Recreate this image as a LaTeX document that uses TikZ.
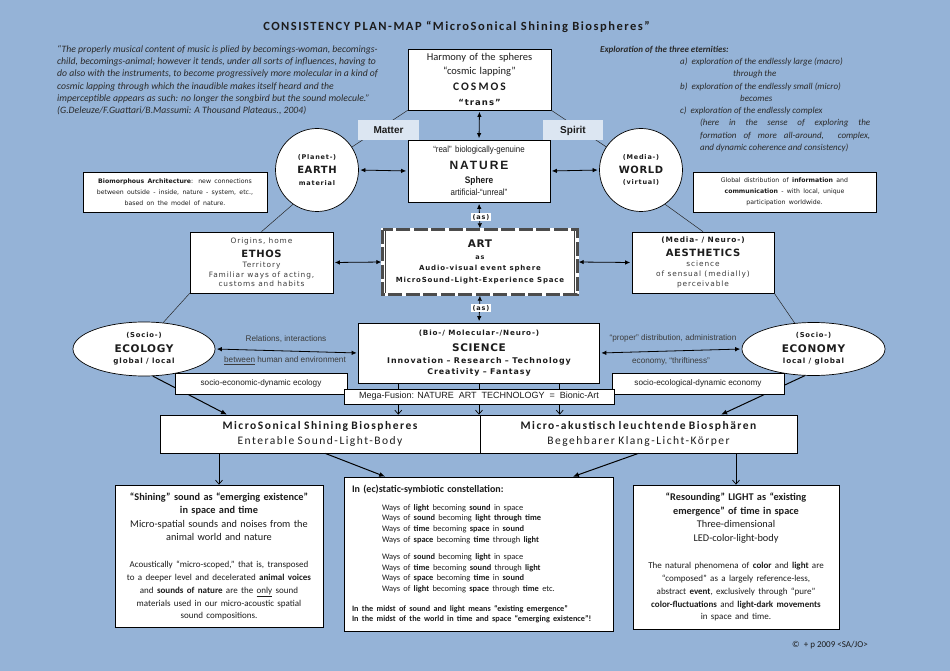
\documentclass[tikz,border=0pt]{standalone}
\usepackage{fontspec}
\setmainfont{Carlito}
\newfontfamily\vsp[LetterSpace=12]{DejaVu Sans}
\newfontfamily\vcap[LetterSpace=6]{DejaVu Sans}
\newfontfamily\dej{DejaVu Sans}
\newfontfamily\ari{Liberation Sans}
\newfontfamily\arin[FakeStretch=0.88]{Liberation Sans}
\newfontfamily\arisp[LetterSpace=16]{Liberation Sans}
\newfontfamily\calsp[LetterSpace=13]{Carlito}
\newfontfamily\calw[LetterSpace=18]{Carlito}
\newfontfamily\ttlf[LetterSpace=12]{Carlito}
\usetikzlibrary{arrows.meta,shapes.geometric,calc}
\setlength{\parindent}{0pt}
\setlength{\parskip}{0pt}
\definecolor{bg}{HTML}{95B3D7}
\definecolor{lab}{HTML}{DCE6F2}
\definecolor{ink}{HTML}{1C1C1C}
\definecolor{soft}{HTML}{3C3C3C}
\definecolor{qink}{HTML}{2A2A2A}
\newcommand\tline[3]{{\fontsize{#1}{#2}\selectfont #3\par}}
\newcommand\wline[2]{{\leftskip=30pt\fontsize{8.4}{#1}\selectfont #2\par}}
\tikzset{
  box/.style={draw=black, line width=0.7pt, fill=white, inner sep=0pt, align=center, text=ink},
  circ/.style={circle, draw=black, line width=0.7pt, fill=white, inner sep=0pt, align=center, text=ink, font=\vsp\bfseries},
  ell/.style={ellipse, draw=black, line width=0.7pt, fill=white, inner sep=0pt, align=center, text=ink, font=\vsp\bfseries},
  lbl/.style={fill=lab, inner sep=0pt, text=ink, font=\ari\bfseries\fontsize{10}{12}\selectfont},
  aslbl/.style={fill=white, inner xsep=2pt, inner ysep=1.2pt, text=ink, font=\vsp\bfseries\fontsize{6.5}{8}\selectfont},
  small/.style={inner sep=0pt, text=soft, font=\ari\fontsize{8.2}{10}\selectfont},
  dbl/.style={{Latex[length=5pt,width=4.5pt]}-{Latex[length=5pt,width=4.5pt]}, line width=0.8pt, shorten <=1.5pt, shorten >=1.5pt},
  vtip/.style={-{Straight Barb[length=4pt,width=7pt]}, line width=0.7pt},
  stip/.style={-{Latex[length=6pt,width=5pt]}, line width=1pt},
  thinln/.style={line width=0.5pt, draw=black!85},
  exl/.style={anchor=base west, inner sep=0pt, text=qink, font=\itshape\fontsize{9}{11}\selectfont},
}
\begin{document}
\begin{tikzpicture}[x=1pt,y=-1pt]
\fill[bg] (0,0) rectangle (950,671);
\useasboundingbox (0,0) rectangle (950,671);

\node[inner sep=0, text=ink, font=\ttlf\bfseries\fontsize{12.5}{14}\selectfont] (title) at (456.5,27) {CONSISTENCY PLAN-MAP “MicroSonical Shining Biospheres”};

\node[anchor=north west, inner sep=0, align=left, text=qink, font=\itshape\fontsize{9.7}{12.3}\selectfont] (quote) at (57,45) {“The properly musical content of music is plied by becomings-woman, becomings-\\
child, becomings-animal; however it tends, under all sorts of influences, having to\\
do also with the instruments, to become progressively more molecular in a kind of\\
cosmic lapping through which the inaudible makes itself heard and the\\
imperceptible appears as such: no longer the songbird but the sound molecule.”\\
(G.Deleuze/F.Guattari/B.Massumi: A Thousand Plateaus., 2004)};

\node[exl, font=\bfseries\itshape\fontsize{9}{11}\selectfont] (ex0) at (600,53) {Exploration of the three eternities:};
\node[exl] (ex1) at (680,65) {a)\ \ exploration of the endlessly large (macro)};
\node[exl] (ex2) at (733,77) {through the};
\node[exl] (ex3) at (680,90) {b)\ \ exploration of the endlessly small (micro)};
\node[exl] (ex4) at (740,102) {becomes};
\node[exl] (ex5) at (680,114) {c)\ \ exploration of the endlessly complex};
\node[exl] (ex6) at (700,126) {\makebox[170pt][s]{(here in the sense of exploring the}};
\node[exl] (ex7) at (700,139) {\makebox[170pt][s]{formation of more all-around,\ \ complex,}};
\node[exl] (ex8) at (700,151) {and dynamic coherence and consistency)};

\node[box, minimum width=143pt, minimum height=61pt, text width=139pt] (cosmos) at (479.5,79.5) {%
\tline{10.5}{14}{Harmony of the spheres}%
\tline{10.5}{14}{“cosmic lapping”}%
\tline{11.5}{16}{\calw\bfseries COSMOS}%
\tline{8.5}{14.4}{\vsp\bfseries “trans”}};

\node[box, minimum width=142pt, minimum height=62pt, text width=138pt, font=\arin] (nature) at (479,171) {%
\tline{9}{12}{“real” biologically-genuine}%
\tline{12}{16.6}{\arisp\bfseries NATURE}%
\tline{9.5}{13.7}{\bfseries Sphere}%
\tline{9}{12.7}{artificial-“unreal”}};

\node[circ, minimum size=83pt, text width=72pt] (earth) at (317,170) {%
\tline{6.5}{9}{(Planet-)}\tline{10}{14.4}{\vcap EARTH}\tline{6.5}{11.4}{material}};
\node[circ, minimum size=83pt, text width=72pt] (world) at (641,170) {%
\tline{6.5}{9}{(Media-)}\tline{10}{14.4}{\vcap WORLD}\tline{6.5}{11.4}{(virtual)}};

\node[box, minimum width=184pt, minimum height=40pt, text width=180pt, font=\dej] (bio) at (175,192) {%
\tline{6.2}{11}{\textbf{Biomorphous Architecture}: new connections}%
\tline{6.2}{11}{between outside - inside, nature - system, etc.,}%
\tline{6.2}{11}{based on the model of nature.}};
\node[box, minimum width=183pt, minimum height=40pt, text width=179pt, font=\dej] (glob) at (784.5,192) {%
\tline{6.2}{11}{Global distribution of \textbf{information} and}%
\tline{6.2}{11}{\textbf{communication} - with local, unique}%
\tline{6.2}{11}{participation worldwide.}};

\node[minimum width=194pt, minimum height=64pt, fill=white, inner sep=0pt, text width=190pt, align=center, text=ink, font=\vsp\bfseries] (art) at (480,262) {%
\tline{10.5}{12}{\vcap ART}%
\tline{6.5}{12}{as}%
\tline{7}{10.5}{Audio-visual event sphere}%
\tline{7}{11.9}{MicroSound-Light-Experience Space}};
\draw[white, line width=3pt] (art.north west) rectangle (art.south east);
\draw[black!70, line width=3pt, dash pattern=on 14pt off 3.5pt] (art.north west) rectangle (art.south east);
\draw[black!75, line width=0.6pt] ([xshift=2.5pt,yshift=-1.5pt]art.north west) -- ([xshift=2.5pt,yshift=1.5pt]art.south west);
\draw[black!75, line width=0.6pt] ([xshift=-2.5pt,yshift=-1.5pt]art.north east) -- ([xshift=-2.5pt,yshift=1.5pt]art.south east);

\node[box, minimum width=143pt, minimum height=61pt, text width=139pt, font=\vsp, text=soft] (ethos) at (261.5,262.5) {%
\tline{7.4}{9}{Origins, home}%
\tline{10}{13.7}{\vcap\bfseries\color{ink}ETHOS}%
\tline{7.4}{10.3}{Territory}%
\tline{7.4}{10}{Familiar ways of acting,}%
\tline{7.4}{9.2}{customs and habits}};
\node[box, minimum width=142pt, minimum height=61pt, text width=138pt, font=\vsp, text=soft] (aest) at (703,262.5) {%
\tline{7.4}{9}{\bfseries\color{ink}(Media- / Neuro-)}%
\tline{10}{13.7}{\vcap\bfseries\color{ink}AESTHETICS}%
\tline{7.4}{10.3}{science}%
\tline{7.4}{10}{of sensual (medially)}%
\tline{7.4}{9.2}{perceivable}};

\node[box, minimum width=241pt, minimum height=60pt, text width=236pt, font=\vsp\bfseries] (science) at (479,353) {%
\tline{7.2}{9}{(Bio-/ Molecular-/Neuro-)}%
\tline{10.5}{16.3}{\vcap SCIENCE}%
\tline{7.9}{11.7}{Innovation – Research – Technology}%
\tline{7.9}{11}{Creativity – Fantasy}};

\node[ell, minimum width=142pt, minimum height=54pt, text width=80pt] (ecology) at (144,349) {%
\tline{6.8}{9}{(Socio-)}\tline{10.5}{14.6}{\vcap ECOLOGY}\tline{7.2}{11.7}{global / local}};
\node[ell, minimum width=143pt, minimum height=53pt, text width=80pt] (economy) at (813.5,349) {%
\tline{6.8}{9}{(Socio-)}\tline{10.5}{14.6}{\vcap ECONOMY}\tline{7.2}{11.7}{local / global}};

\node[box, minimum width=320pt, minimum height=38pt, text width=316pt, font=\calsp] (bigL) at (320,434) {%
\tline{11.5}{12}{\bfseries MicroSonical Shining Biospheres}\tline{11.5}{14.8}{Enterable Sound-Light-Body}};
\node[box, minimum width=317pt, minimum height=38pt, text width=313pt, font=\calsp] (bigR) at (638.5,434) {%
\tline{11.5}{12}{\bfseries Micro-akustisch leuchtende Biosphären}\tline{11.5}{14.8}{Begehbarer Klang-Licht-Körper}};

\node[box, minimum width=208pt, minimum height=142pt, text width=204pt] (shine) at (219,556) {%
\tline{10.3}{12}{\bfseries “Shining” sound as “emerging existence”}%
\tline{10.3}{13}{\bfseries in space and time}%
\tline{10.3}{14}{Micro-spatial sounds and noises from the}%
\tline{10.3}{13}{animal world and nature}%
\tline{9}{27.5}{Acoustically “micro-scoped,” that is, transposed}%
\tline{9}{13}{to a deeper level and decelerated \textbf{animal voices}}%
\tline{9}{13}{and \textbf{sounds of nature} are the \underline{only} sound}%
\tline{9}{12.5}{materials used in our micro-acoustic spatial}%
\tline{9}{12}{sound compositions.}};

\node[box, minimum width=269pt, minimum height=154pt, text width=253pt, align=left] (mid) at (478.5,554) {%
\tline{10}{12}{\bfseries In (ec)static-symbiotic constellation:}%
\wline{17.1}{Ways of \textbf{light} becoming \textbf{sound} in space}%
\wline{10.9}{Ways of \textbf{sound} becoming \textbf{light through time}}%
\wline{10.9}{Ways of \textbf{time} becoming \textbf{space} in \textbf{sound}}%
\wline{10.9}{Ways of \textbf{space} becoming \textbf{time} through \textbf{light}}%
\wline{16.4}{Ways of \textbf{sound} becoming \textbf{light} in space}%
\wline{10.9}{Ways of \textbf{time} becoming \textbf{sound} through \textbf{light}}%
\wline{10.9}{Ways of \textbf{space} becoming \textbf{time} in \textbf{sound}}%
\wline{10.9}{Ways of \textbf{light} becoming \textbf{space} through \textbf{time} etc.}%
\tline{8.2}{19.2}{\bfseries In the midst of sound and light means “existing emergence”}%
\tline{8.2}{10.1}{\bfseries In the midst of the world in time and space “emerging existence”!}};

\node[box, minimum width=206pt, minimum height=144pt, text width=202pt] (res) at (736,557) {%
\tline{10.3}{12}{\bfseries “Resounding” LIGHT as “existing}%
\tline{10.3}{14}{\bfseries emergence” of time in space}%
\tline{10.3}{13}{Three-dimensional}%
\tline{10.3}{14}{LED-color-light-body}%
\tline{9}{26.5}{The natural phenomena of \textbf{color} and \textbf{light} are}%
\tline{9}{13}{“composed” as a largely reference-less,}%
\tline{9}{13}{abstract \textbf{event}, exclusively through “pure”}%
\tline{9}{13}{\textbf{color-fluctuations} and \textbf{light-dark movements}}%
\tline{9}{12}{in space and time.}};

\node[inner sep=0pt, text=ink, font=\fontsize{9}{11}\selectfont] (copy) at (830,645) {©~ + p 2009 <SA/JO>};

% thin connecting lines
\draw[thinln] (cosmos.south west) -- (earth);
\draw[thinln] (cosmos.south east) -- (world);
\draw[thinln] (earth.235) -- (ethos.north);
\draw[thinln] (world.-55) -- (aest.north);
\draw[thinln] (ethos.south west) -- (ecology.54);
\draw[thinln] (aest.south east) -- (economy.126);

% double arrows
\draw[dbl] (cosmos.south) -- (nature.north);
\draw[dbl] (earth.east) -- (nature.west);
\draw[dbl] (nature.east) -- (world.west);
\draw[dbl] (nature.south) -- (art.north);
\draw[dbl] (art.south) -- (science.north);
\draw[dbl] (ethos.east) -- (art.west);
\draw[dbl] (art.east) -- (aest.west);
\draw[dbl] (ecology.east) -- (science.west);
\draw[dbl] (science.east) -- (economy.west);

\node[lbl, minimum width=61pt, minimum height=20pt] (matter) at (388.5,130.5) {Matter};
\node[lbl, minimum width=60pt, minimum height=20pt] (spirit) at (573,130.5) {Spirit};
\node[aslbl] (as1) at (481,217) {(as)};
\node[aslbl] (as2) at (481,308) {(as)};

\node[small] (rel1) at (286,339) {Relations, interactions};
\node[small] (rel2) at (285,361) {\underline{between} human and environment};
\node[small] (dist1) at (673,338) {“proper” distribution, administration};
\node[small] (dist2) at (671,361) {economy, “thriftiness”};

% science down to the sphere box
\coordinate (s1) at ($(science.south west)!0.166!(science.south east)$);
\coordinate (s2) at (science.south);
\coordinate (s3) at ($(science.south west)!0.834!(science.south east)$);
\draw[vtip] (s1) -- (s1 |- bigL.north);
\draw[vtip] (s2) -- (s2 |- bigL.north);
\draw[vtip] (s3) -- (s3 |- bigR.north);

% ecology / economy down to the sphere box
\coordinate (e1) at ($(bigL.north west)!0.21!(bigL.north east)$);
\coordinate (e2) at ($(bigR.north east)!0.24!(bigR.north west)$);
\draw[stip] (ecology.-72) -- (e1);
\draw[stip] (economy.-108) -- (e2);

\node[box, minimum width=172pt, minimum height=21pt, font=\ari\fontsize{8.2}{10}\selectfont] (soc1) at (261,383.5) {socio-economic-dynamic ecology};
\node[box, minimum width=172pt, minimum height=21pt, font=\ari\fontsize{8.2}{10}\selectfont] (soc2) at (698,383.5) {socio-ecological-dynamic economy};
\node[box, minimum width=270pt, minimum height=15pt, font=\ari\fontsize{9}{10}\selectfont] (mega) at (479,396.5) {Mega-Fusion: NATURE~ ART~ TECHNOLOGY~ =~ Bionic-Art};

% sphere box down to the three texts
\draw[vtip] (shine.north |- bigL.south) -- (shine.north);
\draw[vtip] (res.north |- bigR.south) -- (res.north);
\coordinate (b1) at ($(bigL.south west)!0.516!(bigL.south east)$);
\coordinate (b2) at ($(bigR.south west)!0.5!(bigR.south east)$);
\coordinate (m1) at ($(mid.north west)!0.154!(mid.north east)$);
\coordinate (m2) at ($(mid.north west)!0.85!(mid.north east)$);
\draw[stip] (b1) -- (m1);
\draw[stip] (b2) -- (m2);
\end{tikzpicture}
\end{document}
